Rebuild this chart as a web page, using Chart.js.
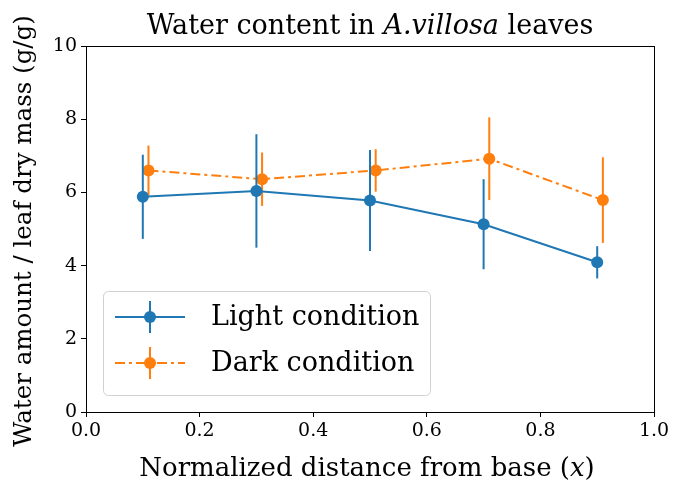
<!DOCTYPE html>
<html>
<head>
<meta charset="utf-8">
<script src="https://cdn.jsdelivr.net/npm/chart.js@4.4.1/dist/chart.umd.min.js"></script>
<style>
  html, body { margin: 0; padding: 0; background: #fff; }
  #wrap { width: 683px; height: 483px; }
</style>
</head>
<body>
<div id="wrap"><canvas id="graphe" width="683" height="483"></canvas></div>
<script>
// Données
const lightX = [0.1, 0.3, 0.5, 0.7, 0.9];
const lightY = [5.88, 6.04, 5.78, 5.13, 4.09];
const lightErr = [1.15, 1.55, 1.38, 1.23, 0.44];

const darkX = [0.11, 0.31, 0.51, 0.71, 0.91];
const darkY = [6.60, 6.36, 6.60, 6.92, 5.79];
const darkErr = [0.68, 0.73, 0.58, 1.13, 1.17];

const xTicks = [0.0, 0.2, 0.4, 0.6, 0.8, 1.0];
const yTicks = [0, 2, 4, 6, 8, 10];

const BLUE = '#1f77b4';
const ORANGE = '#ff7f0e';
const SERIF = '"DejaVu Serif", "Liberation Serif", serif';
const DASHDOT = [10, 4, 3, 4];

function toPoints(xs, ys) {
    return xs.map((x, i) => ({ x: x, y: ys[i] }));
}

// écrit une suite de morceaux (police différente) centrée sur cx
function drawParts(ctx, parts, cx, y) {
    let w = 0;
    parts.forEach(p => { ctx.font = p[1]; w += ctx.measureText(p[0]).width; });
    let x0 = cx - w / 2;
    ctx.textAlign = 'left';
    parts.forEach(p => {
        ctx.font = p[1];
        ctx.fillText(p[0], x0, y);
        x0 += ctx.measureText(p[0]).width;
    });
}

// Barres d'erreur, dessinées avant chaque série (sous les marqueurs)
const errorBars = {
    id: 'errorBars',
    beforeDatasetDraw(chart, args) {
        const ds = chart.data.datasets[args.index];
        if (!ds.errors) return;
        const xs = chart.scales.x, ys = chart.scales.y;
        const ctx = chart.ctx;
        ctx.save();
        ctx.strokeStyle = ds.borderColor;
        ctx.lineWidth = 2;
        ds.data.forEach((p, i) => {
            const px = xs.getPixelForValue(p.x);
            ctx.beginPath();
            ctx.moveTo(px, ys.getPixelForValue(p.y - ds.errors[i]));
            ctx.lineTo(px, ys.getPixelForValue(p.y + ds.errors[i]));
            ctx.stroke();
        });
        ctx.restore();
    }
};

// Titre, libellés d'axes, cadre et légende façon matplotlib
const decor = {
    id: 'decor',
    afterDraw(chart) {
        const ctx = chart.ctx;
        const a = chart.chartArea;
        ctx.save();

        // cadre complet
        ctx.strokeStyle = '#000';
        ctx.lineWidth = 1;
        ctx.strokeRect(a.left + 0.5, a.top + 0.5, a.right - a.left, a.bottom - a.top);

        ctx.fillStyle = '#000';
        ctx.textBaseline = 'alphabetic';
        const cx = (a.left + a.right) / 2;

        // titre avec partie en italique
        drawParts(ctx, [
            ['Water content in ', 'normal 27px ' + SERIF],
            ['A.villosa', 'italic 27px ' + SERIF],
            [' leaves', 'normal 27px ' + SERIF]
        ], cx, 34);

        // titre de l'axe x
        drawParts(ctx, [
            ['Normalized distance from base (', 'normal 26px ' + SERIF],
            ['x', 'italic 26px ' + SERIF],
            [')', 'normal 26px ' + SERIF]
        ], cx - 3, 476);

        // titre de l'axe y
        ctx.save();
        ctx.translate(31, (a.top + a.bottom) / 2 + 2);
        ctx.rotate(-Math.PI / 2);
        ctx.textAlign = 'center';
        ctx.font = 'normal 24.5px ' + SERIF;
        ctx.fillText('Water amount / leaf dry mass (g/g)', 0, 0);
        ctx.restore();

        // légende
        const lx = 103.5, ly = 291.5, lw = 327, lh = 104;
        ctx.beginPath();
        ctx.roundRect(lx, ly, lw, lh, 5);
        ctx.fillStyle = 'rgba(255,255,255,0.8)';
        ctx.fill();
        ctx.strokeStyle = '#d0d0d0';
        ctx.lineWidth = 1;
        ctx.stroke();

        const rows = [
            { label: 'Light condition', color: BLUE, dash: [], y: 317 },
            { label: 'Dark condition', color: ORANGE, dash: DASHDOT, y: 363 }
        ];
        rows.forEach(r => {
            ctx.strokeStyle = r.color;
            ctx.lineWidth = 2;
            ctx.setLineDash(r.dash);
            ctx.beginPath();
            ctx.moveTo(115, r.y);
            ctx.lineTo(185, r.y);
            ctx.stroke();
            ctx.setLineDash([]);
            ctx.beginPath();
            ctx.moveTo(150, r.y - 16);
            ctx.lineTo(150, r.y + 16);
            ctx.stroke();
            ctx.fillStyle = r.color;
            ctx.beginPath();
            ctx.arc(150, r.y, 6, 0, Math.PI * 2);
            ctx.fill();
            ctx.fillStyle = '#000';
            ctx.textAlign = 'left';
            ctx.textBaseline = 'middle';
            ctx.font = 'normal 27px ' + SERIF;
            ctx.fillText(r.label, 211, r.y + 1);
        });
        ctx.restore();
    }
};

const chart = new Chart(document.getElementById('graphe').getContext('2d'), {
    type: 'line',
    data: {
        datasets: [
            {
                label: 'Light condition',
                data: toPoints(lightX, lightY),
                errors: lightErr,
                borderColor: BLUE,
                backgroundColor: BLUE,
                borderWidth: 2,
                pointRadius: 6,
                pointBorderWidth: 0,
                pointHoverRadius: 6,
                tension: 0,
                fill: false
            },
            {
                label: 'Dark condition',
                data: toPoints(darkX, darkY),
                errors: darkErr,
                borderColor: ORANGE,
                backgroundColor: ORANGE,
                borderWidth: 2,
                borderDash: DASHDOT,
                pointRadius: 6,
                pointBorderWidth: 0,
                pointHoverRadius: 6,
                tension: 0,
                fill: false
            }
        ]
    },
    options: {
        responsive: false,
        animation: false,
        events: [],
        layout: { padding: { top: 46, right: 29, left: 0, bottom: 0 } },
        plugins: {
            legend: { display: false },
            title: { display: false },
            tooltip: { enabled: false }
        },
        scales: {
            x: {
                type: 'linear',
                min: 0, max: 1,
                afterBuildTicks: s => { s.ticks = xTicks.map(v => ({ value: v })); },
                afterFit: s => { s.height = 71; },
                grid: { drawOnChartArea: false, tickLength: 5, color: '#000', tickColor: '#000' },
                border: { color: '#000', width: 1 },
                ticks: {
                    color: '#000',
                    padding: 3,
                    font: { family: SERIF, size: 19 },
                    callback: v => v.toFixed(1)
                }
            },
            y: {
                type: 'linear',
                min: 0, max: 10,
                afterBuildTicks: s => { s.ticks = yTicks.map(v => ({ value: v })); },
                afterFit: s => { s.width = 86; },
                grid: { drawOnChartArea: false, tickLength: 5, color: '#000', tickColor: '#000' },
                border: { color: '#000', width: 1 },
                ticks: {
                    color: '#000',
                    padding: 4,
                    font: { family: SERIF, size: 19 },
                    callback: v => String(v)
                }
            }
        }
    },
    plugins: [errorBars, decor]
});
</script>
</body>
</html>
